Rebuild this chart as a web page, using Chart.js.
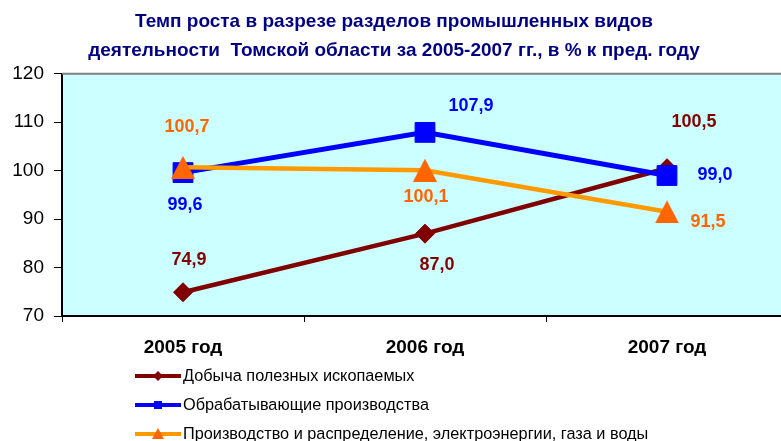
<!DOCTYPE html>
<html>
<head>
<meta charset="utf-8">
<script src="https://cdn.jsdelivr.net/npm/chart.js@4/dist/chart.umd.min.js"></script>
<style>
    html, body { margin: 0; padding: 0; background: #fff; overflow: hidden; }
    #wrap { width: 794px; height: 441px; }
</style>
</head>
<body>
<div id="wrap"><canvas id="growthChart" width="794" height="441"></canvas></div>
<script>
// Chart data
const categories = ['2005 год', '2006 год', '2007 год'];
const seriesNames = [
    'Добыча полезных ископаемых',
    'Обрабатывающие производства',
    'Производство и распределение, электроэнергии, газа и воды'
];
const miningValues = [74.9, 87.0, 100.5];
const manufacturingValues = [99.6, 107.9, 99.0];
const utilitiesValues = [100.7, 100.1, 91.5];
const yTicks = [70, 80, 90, 100, 110, 120];

const FONT = "'Liberation Sans', Arial, sans-serif";

// Where each value label sits relative to its point (dx, dy)
const labelOffsets = [
    [[6, -32], [12, 31], [27, -46]],
    [[2, 32], [46, -26], [48, 0]],
    [[4, -40], [1, 27], [41, 10]]
];
const labelColors = ['#800000', '#0000FF', '#FF6600'];

// Triangle marker as a small canvas so it sits centred on the point
function makeTriangle(w, h, color) {
    const c = document.createElement('canvas');
    c.width = w;
    c.height = h;
    const g = c.getContext('2d');
    g.fillStyle = color;
    g.beginPath();
    g.moveTo(w / 2, 0);
    g.lineTo(w, h);
    g.lineTo(0, h);
    g.closePath();
    g.fill();
    return c;
}
const triangle = makeTriangle(24, 23, '#FF6600');

function fmt(v) {
    return v.toFixed(1).replace('.', ',');
}

// Plot background and top/right frame
const plotFrame = {
    id: 'plotFrame',
    beforeDraw(chart) {
        const a = chart.chartArea;
        const ctx = chart.ctx;
        ctx.save();
        ctx.fillStyle = '#CCFFFF';
        ctx.fillRect(a.left, a.top, a.right - a.left, a.bottom - a.top);
        ctx.restore();
    },
    afterDraw(chart) {
        const a = chart.chartArea;
        const ctx = chart.ctx;
        ctx.save();
        ctx.strokeStyle = '#808080';
        ctx.lineWidth = 2;
        ctx.beginPath();
        ctx.moveTo(a.left, a.top);
        ctx.lineTo(a.right, a.top);
        ctx.lineTo(a.right, a.bottom);
        ctx.stroke();
        ctx.restore();
    }
};

// Value labels next to the points
const valueLabels = {
    id: 'valueLabels',
    afterDatasetsDraw(chart) {
        const ctx = chart.ctx;
        ctx.save();
        ctx.font = 'bold 18px ' + FONT;
        ctx.textAlign = 'center';
        ctx.textBaseline = 'middle';
        chart.data.datasets.forEach((ds, i) => {
            const meta = chart.getDatasetMeta(i);
            ctx.fillStyle = labelColors[i];
            meta.data.forEach((pt, j) => {
                const off = labelOffsets[i][j];
                ctx.fillText(fmt(ds.data[j]), pt.x + off[0], pt.y + off[1]);
            });
        });
        ctx.restore();
    }
};

// Vertical legend under the plot
const listLegend = {
    id: 'listLegend',
    afterDraw(chart) {
        const ctx = chart.ctx;
        const x0 = 135, x1 = 181;
        const rows = [376, 405, 434];
        ctx.save();
        chart.data.datasets.forEach((ds, i) => {
            const y = rows[i];
            const mx = (x0 + x1) / 2;
            ctx.strokeStyle = ds.borderColor;
            ctx.lineWidth = 4;
            ctx.beginPath();
            ctx.moveTo(x0, y);
            ctx.lineTo(x1, y);
            ctx.stroke();
            ctx.fillStyle = ds.pointBackgroundColor;
            ctx.beginPath();
            if (i === 0) {
                ctx.moveTo(mx, y - 5);
                ctx.lineTo(mx + 5, y);
                ctx.lineTo(mx, y + 5);
                ctx.lineTo(mx - 5, y);
            } else if (i === 1) {
                ctx.rect(mx - 4, y - 4, 8, 8);
            } else {
                ctx.moveTo(mx, y - 6);
                ctx.lineTo(mx + 6, y + 5);
                ctx.lineTo(mx - 6, y + 5);
            }
            ctx.closePath();
            ctx.fill();
            ctx.fillStyle = '#000';
            ctx.font = '16.3px ' + FONT;
            ctx.textAlign = 'left';
            ctx.textBaseline = 'middle';
            ctx.fillText(ds.label, x1 + 2, y + 1);
        });
        ctx.restore();
    }
};

const ctx = document.getElementById('growthChart').getContext('2d');
new Chart(ctx, {
    type: 'line',
    data: {
        labels: categories,
        datasets: [{
            label: seriesNames[0],
            data: miningValues,
            borderColor: '#800000',
            borderWidth: 4.5,
            pointStyle: 'rectRot',
            pointRadius: 9.5,
            pointBackgroundColor: '#800000',
            pointBorderColor: '#800000',
            pointBorderWidth: 1,
            order: 3
        }, {
            label: seriesNames[1],
            data: manufacturingValues,
            borderColor: '#0000FF',
            borderWidth: 5,
            pointStyle: 'rect',
            pointRadius: 14,
            pointBackgroundColor: '#0000FF',
            pointBorderColor: '#0000FF',
            pointBorderWidth: 1,
            order: 2
        }, {
            label: seriesNames[2],
            data: utilitiesValues,
            borderColor: '#FF9900',
            borderWidth: 4.5,
            pointStyle: triangle,
            pointRadius: 12,
            pointBackgroundColor: '#FF6600',
            pointBorderColor: '#FF6600',
            order: 1
        }]
    },
    options: {
        responsive: false,
        animation: false,
        layout: {
            autoPadding: false,
            padding: { left: 0, right: 6, top: 0, bottom: 85 }
        },
        plugins: {
            legend: { display: false },
            tooltip: { enabled: false },
            title: {
                display: true,
                text: [
                    'Темп роста в разрезе разделов промышленных видов',
                    'деятельности  Томской области за 2005-2007 гг., в % к пред. году'
                ],
                color: '#000080',
                font: { family: FONT, size: 19, weight: 'bold', lineHeight: 1.52 },
                padding: { top: 7, bottom: 9 }
            }
        },
        scales: {
            x: {
                offset: true,
                afterFit(scale) {
                    scale.height = 40;
                    scale.paddingLeft = 0;
                    scale.paddingRight = 0;
                },
                grid: {
                    offset: true,
                    drawOnChartArea: false,
                    drawTicks: true,
                    tickLength: 6,
                    color: '#000'
                },
                border: { display: true, color: '#000', width: 2 },
                ticks: {
                    color: '#000',
                    padding: 14,
                    font: { family: FONT, size: 19, weight: 'bold' }
                }
            },
            y: {
                min: Math.min(...yTicks),
                max: Math.max(...yTicks),
                afterFit(scale) { scale.width = 62; },
                grid: {
                    drawOnChartArea: false,
                    drawTicks: true,
                    tickLength: 8,
                    color: '#000'
                },
                border: { display: true, color: '#000', width: 2 },
                ticks: {
                    stepSize: yTicks[1] - yTicks[0],
                    color: '#000',
                    padding: 10,
                    font: { family: FONT, size: 19 }
                }
            }
        }
    },
    plugins: [plotFrame, valueLabels, listLegend]
});
</script>
</body>
</html>
